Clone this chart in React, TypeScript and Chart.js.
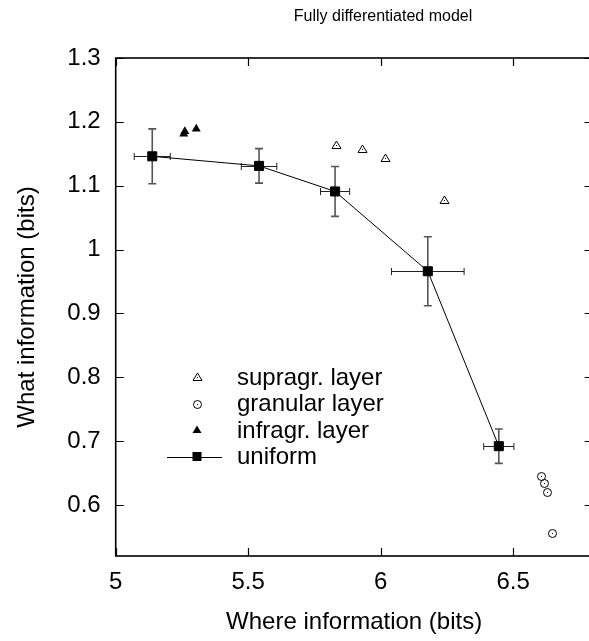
import React, { useEffect, useRef } from "react";
import { Chart, registerables } from "chart.js";
Chart.register(...registerables);

const FONT = "'Liberation Sans', Arial, Helvetica, sans-serif";

const chartTitle = "Fully differentiated model";
const xTitle = "Where information (bits)";
const yTitle = "What information (bits)";

const xTicks = [5, 5.5, 6, 6.5];
const yTicks = [0.6, 0.7, 0.8, 0.9, 1.0, 1.1, 1.2, 1.3];

const supraX = [5.833, 5.93, 6.018, 6.24];
const supraY = [1.164, 1.157, 1.143, 1.078];

const granX = [6.605, 6.618, 6.628, 6.646];
const granY = [0.645, 0.634, 0.62, 0.556];

const infraX = [5.261, 5.257, 5.304];
const infraY = [1.185, 1.181, 1.189];

const uniformX = [5.138, 5.541, 5.828, 6.178, 6.446];
const uniformY = [1.146, 1.131, 1.091, 0.966, 0.692];
const uniformXErr = [0.068, 0.067, 0.055, 0.137, 0.057];
const uniformYErr = [0.043, 0.027, 0.039, 0.054, 0.027];

const seriesLabels = ["supragr. layer", "granular layer", "infragr. layer", "uniform"];

function drawSym(ctx: CanvasRenderingContext2D, kind: string, x: number, y: number) {
  const rx = Math.round(x);
  const ry = Math.round(y);
  const cx = rx + 0.5;
  const cy = ry + 0.5;
  ctx.save();
  ctx.strokeStyle = "#000";
  ctx.fillStyle = "#000";
  ctx.lineWidth = 1;
  ctx.beginPath();
  if (kind === "tri") {
    ctx.moveTo(cx, cy - 4.5);
    ctx.lineTo(cx + 4.5, cy + 3);
    ctx.lineTo(cx - 4.5, cy + 3);
    ctx.closePath();
    ctx.stroke();
    ctx.fillRect(rx, ry, 1, 1);
  } else {
    ctx.arc(cx, cy, 4, 0, Math.PI * 2);
    ctx.stroke();
    ctx.fillRect(rx, ry, 1, 1);
  }
  ctx.restore();
}

const pts = (xs: number[], ys: number[]) => xs.map((x, i) => ({ x, y: ys[i] }));

export default function App() {
  const ref = useRef<HTMLCanvasElement>(null);

  useEffect(() => {
    const canvas = ref.current!;

    const errorBars = {
      id: "errorBars",
      beforeDatasetsDraw(chart: any) {
        const { ctx, scales } = chart;
        const xs = scales.x, ys = scales.y;
        ctx.save();
        for (let i = 0; i < uniformX.length; i++) {
          const px = xs.getPixelForValue(uniformX[i]);
          const py = ys.getPixelForValue(uniformY[i]);
          const x0 = xs.getPixelForValue(uniformX[i] - uniformXErr[i]);
          const x1 = xs.getPixelForValue(uniformX[i] + uniformXErr[i]);
          const y0 = ys.getPixelForValue(uniformY[i] - uniformYErr[i]);
          const y1 = ys.getPixelForValue(uniformY[i] + uniformYErr[i]);
          ctx.strokeStyle = "#555";
          ctx.lineWidth = 1.6;
          ctx.beginPath();
          ctx.moveTo(px, y0);
          ctx.lineTo(px, y1);
          ctx.moveTo(px - 4, y0);
          ctx.lineTo(px + 4, y0);
          ctx.moveTo(px - 4, y1);
          ctx.lineTo(px + 4, y1);
          ctx.stroke();
          ctx.strokeStyle = "#222";
          ctx.lineWidth = 1;
          const hy = Math.round(py) + 0.5;
          ctx.beginPath();
          ctx.moveTo(x0, hy);
          ctx.lineTo(x1, hy);
          ctx.moveTo(x0, hy - 3.5);
          ctx.lineTo(x0, hy + 3.5);
          ctx.moveTo(x1, hy - 3.5);
          ctx.lineTo(x1, hy + 3.5);
          ctx.stroke();
        }
        ctx.restore();
      },
      afterDatasetsDraw(chart: any) {
        const { ctx } = chart;
        [["tri", 0], ["circ", 1]].forEach(([kind, idx]: any) => {
          const meta = chart.getDatasetMeta(idx);
          meta.data.forEach((el: any) => drawSym(ctx, kind, el.x, el.y));
        });
      },
    };

    const frame = {
      id: "frame",
      afterDraw(chart: any) {
        const { ctx, chartArea: a, scales } = chart;
        const xs = scales.x, ys = scales.y;
        ctx.save();
        ctx.strokeStyle = "#000";
        ctx.lineWidth = 1.2;
        ctx.beginPath();
        xs.ticks.forEach((t: any) => {
          const px = Math.round(xs.getPixelForValue(t.value)) + 0.5;
          ctx.moveTo(px, a.bottom);
          ctx.lineTo(px, a.bottom - 8);
          ctx.moveTo(px, a.top);
          ctx.lineTo(px, a.top + 8);
        });
        ys.ticks.forEach((t: any) => {
          const py = Math.round(ys.getPixelForValue(t.value)) + 0.5;
          ctx.moveTo(a.left, py);
          ctx.lineTo(a.left + 8, py);
          ctx.moveTo(a.right, py);
          ctx.lineTo(a.right - 8, py);
        });
        ctx.stroke();
        ctx.lineWidth = 1.6;
        ctx.strokeRect(a.left, a.top, a.right - a.left, a.bottom - a.top);

        ctx.fillStyle = "#000";
        ctx.font = `16px ${FONT}`;
        ctx.textAlign = "center";
        ctx.textBaseline = "middle";
        ctx.fillText(chartTitle, 383, 17);

        const rows = [377, 403.5, 430, 456.5];
        const symX = 197;
        const textX = 237;
        ctx.font = `24px ${FONT}`;
        ctx.textAlign = "left";
        ctx.textBaseline = "middle";
        chart.data.datasets.forEach((ds: any, i: number) => {
          const ry = rows[i];
          if (i === 0) drawSym(ctx, "tri", symX, ry);
          else if (i === 1) drawSym(ctx, "circ", symX, ry);
          else if (i === 2) {
            ctx.beginPath();
            ctx.moveTo(symX, ry - 4.5);
            ctx.lineTo(symX + 4.5, ry + 3);
            ctx.lineTo(symX - 4.5, ry + 3);
            ctx.closePath();
            ctx.fill();
          } else {
            ctx.lineWidth = 1;
            ctx.beginPath();
            ctx.moveTo(167, Math.round(ry) + 0.5);
            ctx.lineTo(222, Math.round(ry) + 0.5);
            ctx.stroke();
            ctx.fillRect(symX - 4.5, ry - 4.5, 9, 9);
          }
          ctx.fillText(ds.label, textX, ry + 1);
        });
        ctx.restore();
      },
    };

    const tickFont = { family: FONT, size: 24 };

    const chart = new Chart(canvas, {
      type: "scatter",
      data: {
        datasets: [
          {
            label: seriesLabels[0],
            data: pts(supraX, supraY),
            pointRadius: 0,
            showLine: false,
          },
          {
            label: seriesLabels[1],
            data: pts(granX, granY),
            pointRadius: 0,
            showLine: false,
          },
          {
            label: seriesLabels[2],
            data: pts(infraX, infraY),
            pointStyle: "triangle",
            pointRadius: 5.2,
            backgroundColor: "#000",
            borderColor: "#000",
            borderWidth: 0,
            showLine: false,
          },
          {
            label: seriesLabels[3],
            data: pts(uniformX, uniformY),
            pointStyle: "rect",
            pointRadius: 6.4,
            backgroundColor: "#000",
            borderColor: "#000",
            borderWidth: 1,
            showLine: true,
            fill: false,
            tension: 0,
          } as any,
        ],
      },
      options: {
        responsive: false,
        animation: false,
        events: [],
        layout: { padding: { top: 58, right: 6.8, left: 0, bottom: 0 } },
        plugins: {
          legend: { display: false },
          tooltip: { enabled: false },
          title: { display: false },
        },
        scales: {
          x: {
            type: "linear",
            position: "bottom",
            min: 5,
            max: 6.8,
            afterBuildTicks: (s: any) => {
              s.ticks = xTicks.map((v) => ({ value: v }));
            },
            afterFit: (s: any) => {
              s.height = 85;
            },
            grid: { display: false, drawTicks: false },
            border: { display: false },
            ticks: {
              font: tickFont,
              color: "#000",
              padding: 12,
              maxRotation: 0,
              autoSkip: false,
              callback: (v: any) => String(v),
            },
            title: {
              display: true,
              text: xTitle,
              font: tickFont,
              color: "#000",
              padding: { top: 0, bottom: 4 },
            },
          },
          y: {
            type: "linear",
            position: "left",
            min: 0.52,
            max: 1.3,
            afterBuildTicks: (s: any) => {
              s.ticks = yTicks.map((v) => ({ value: v }));
            },
            afterFit: (s: any) => {
              s.width = 115.7;
            },
            grid: { display: false, drawTicks: false },
            border: { display: false },
            ticks: {
              font: tickFont,
              color: "#000",
              padding: 15,
              autoSkip: false,
              callback: (v: any) => String(v),
            },
            title: {
              display: true,
              text: yTitle,
              font: tickFont,
              color: "#000",
              padding: { top: 12.6, bottom: 0 },
            },
          },
        },
      },
      plugins: [errorBars, frame],
    });
    return () => chart.destroy();
  }, []);

  return (
    <div
      style={{
        position: "fixed",
        left: 0,
        top: 0,
        width: 589,
        height: 641,
        overflow: "hidden",
        background: "#fff",
      }}
    >
      <canvas ref={ref} width={600} height={641} style={{ display: "block" }} />
    </div>
  );
}
